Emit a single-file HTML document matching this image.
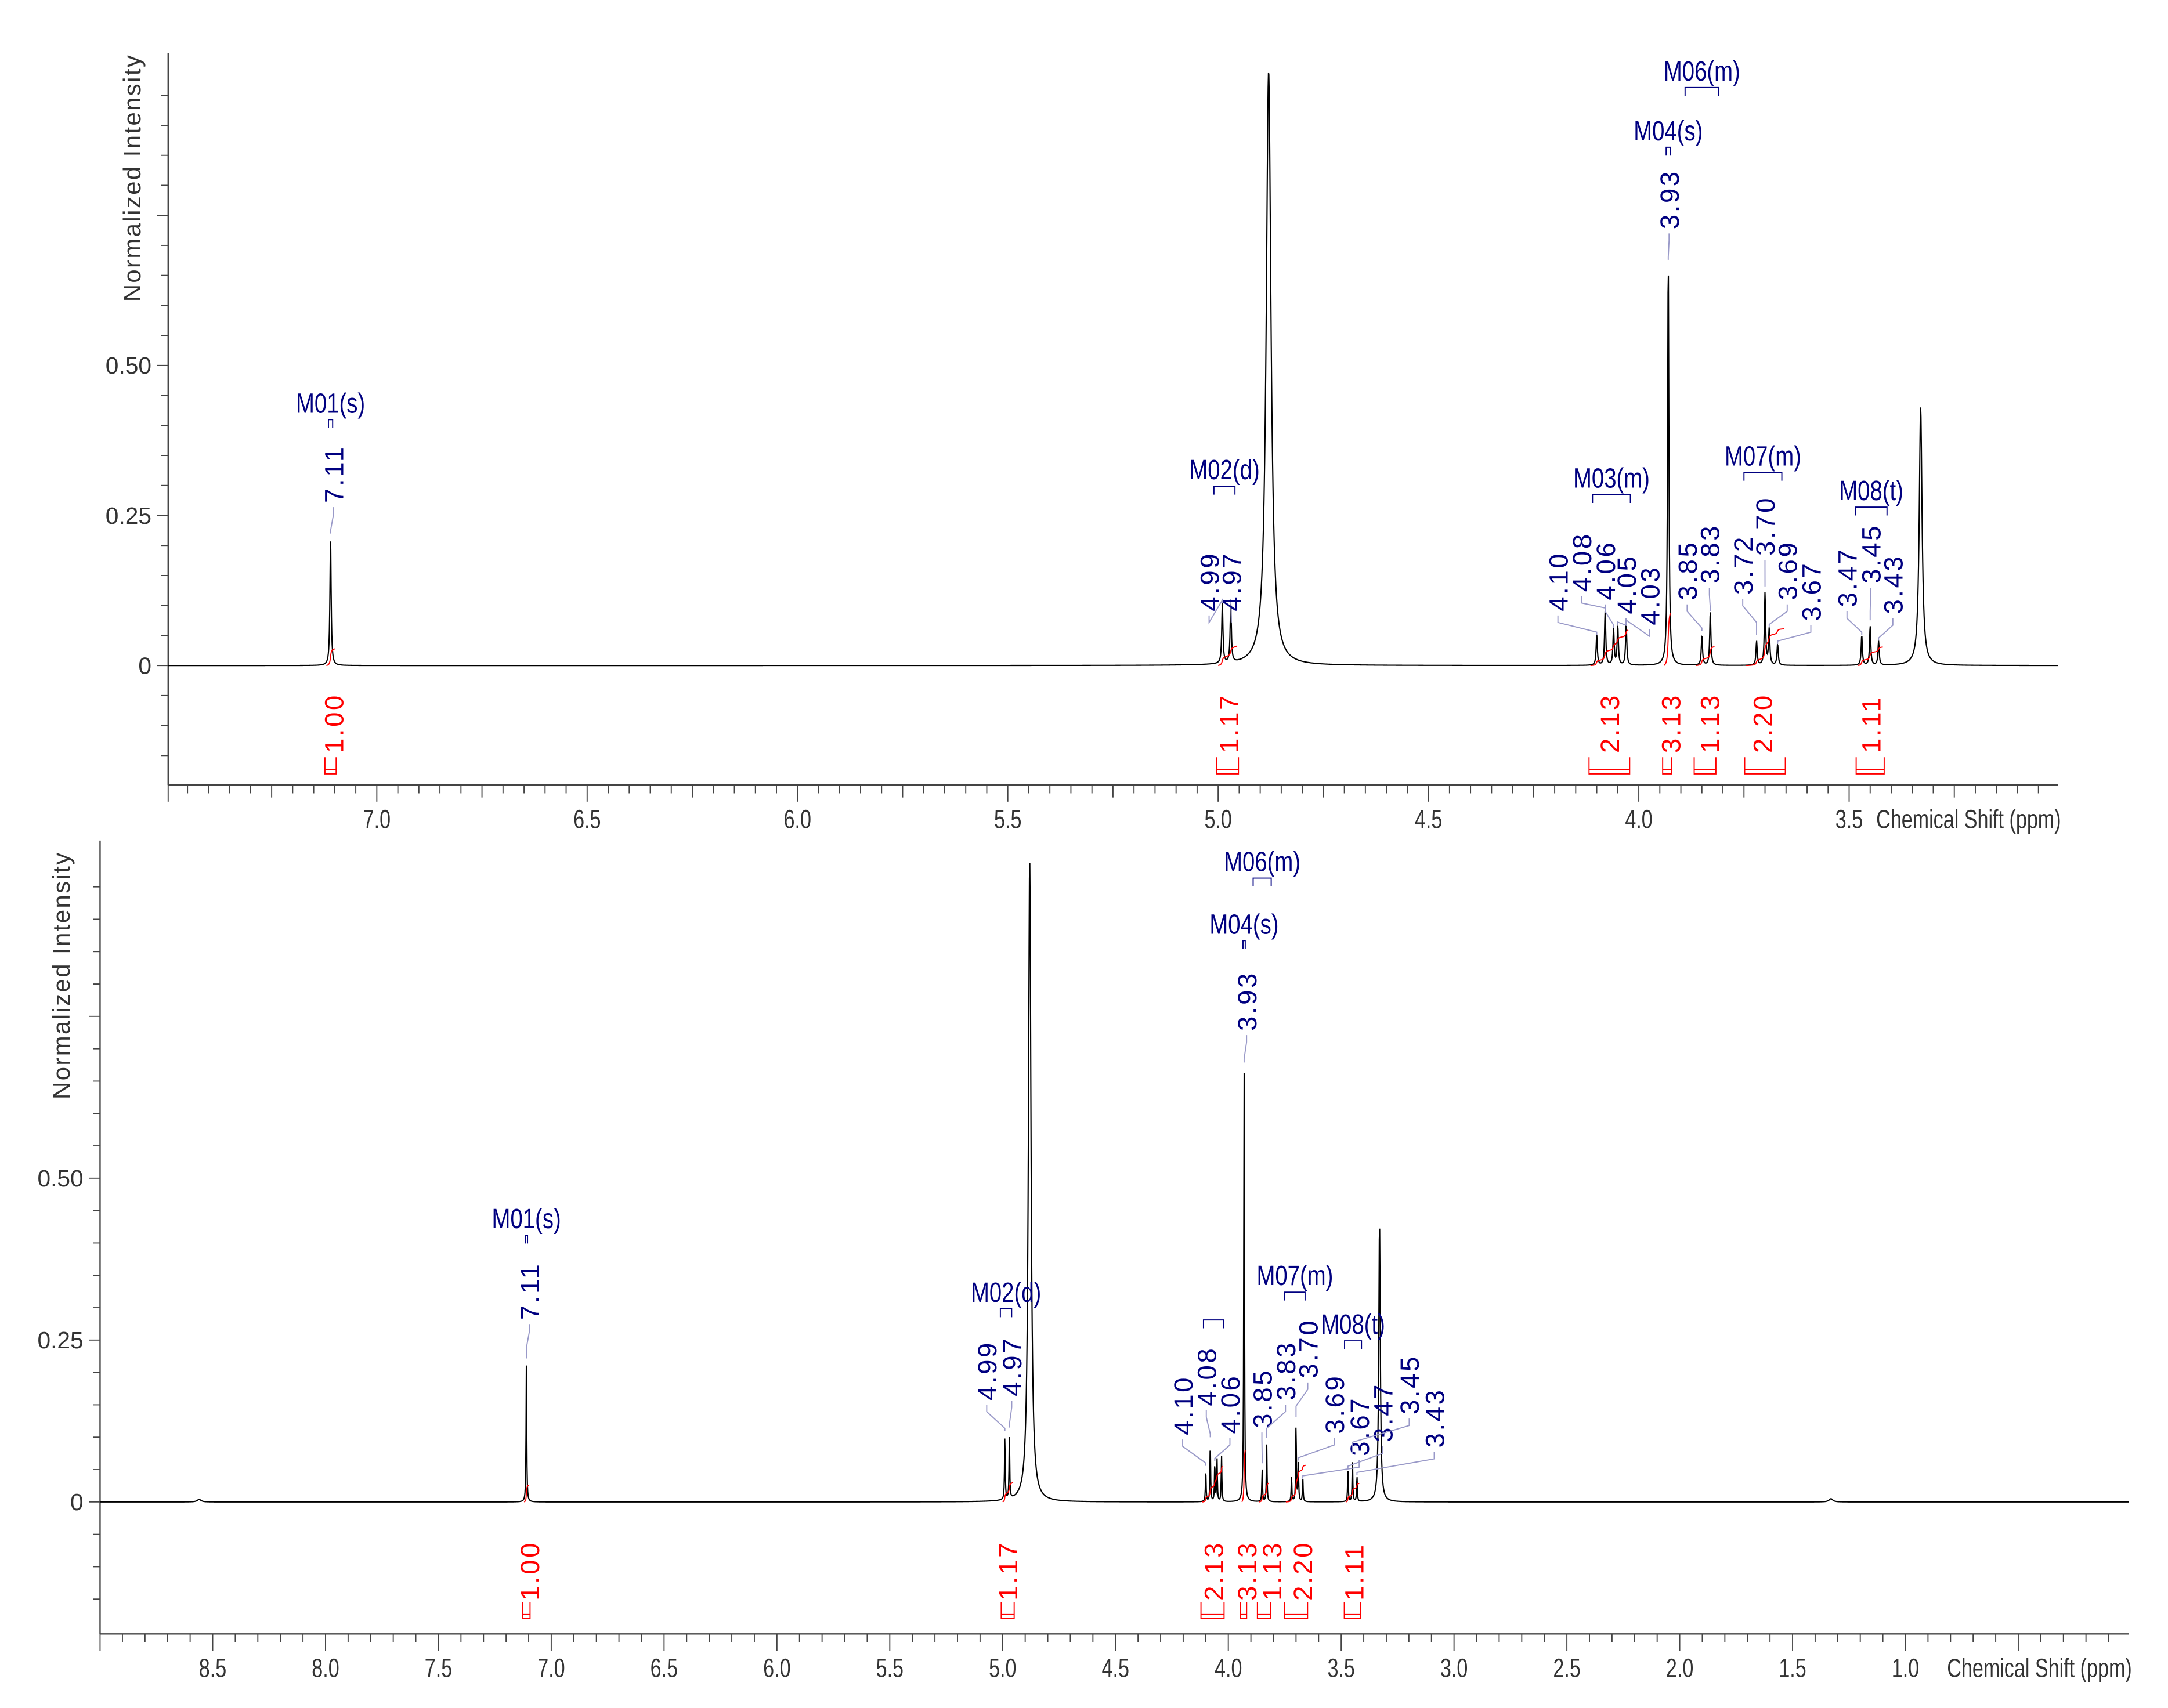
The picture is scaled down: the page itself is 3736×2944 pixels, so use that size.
<!DOCTYPE html>
<html><head><meta charset="utf-8"><style>
html,body{margin:0;padding:0;background:#fff;}
svg{display:block;}
</style></head><body>
<svg id="chart" xmlns="http://www.w3.org/2000/svg" width="3736" height="2944" viewBox="0 0 1560 1229.3" font-family="Liberation Sans, sans-serif">
<rect x="0" y="0" width="1560" height="1229.3" fill="#fff"/>
<g id="top"></g>
<g id="bot"></g>
</svg>
<script>
// ---- data (ppm, normalized intensity, half-width ppm) ----
const peakPpm = [7.11, 4.99, 4.97, 4.88, 4.10, 4.08, 4.06, 4.05, 4.03, 3.93, 3.85, 3.83, 3.72, 3.70, 3.69, 3.67, 3.47, 3.45, 3.43, 3.33, 1.33, 8.56];
const peakInt = [0.213, 0.10, 0.10, 0.99, 0.05, 0.09, 0.06, 0.065, 0.07, 0.67, 0.05, 0.09, 0.04, 0.12, 0.06, 0.035, 0.05, 0.065, 0.04, 0.43, 0.005, 0.004];
const peakHw = [0.0017, 0.0017, 0.0017, 0.0068, 0.0017, 0.0017, 0.0017, 0.0017, 0.0017, 0.0018, 0.0017, 0.0017, 0.0017, 0.0017, 0.0018, 0.0018, 0.0017, 0.0017, 0.0017, 0.004, 0.01, 0.01];
const yTickValues = [0, 0.25, 0.50];
const yTickLabels = ["0", "0.25", "0.50"];
const topXTicks = [7.0, 6.5, 6.0, 5.5, 5.0, 4.5, 4.0, 3.5];
const topXTickLabels = ["7.0", "6.5", "6.0", "5.5", "5.0", "4.5", "4.0", "3.5"];
const botXTicks = [8.5, 8.0, 7.5, 7.0, 6.5, 6.0, 5.5, 5.0, 4.5, 4.0, 3.5, 3.0, 2.5, 2.0, 1.5, 1.0];
const botXTickLabels = ["8.5", "8.0", "7.5", "7.0", "6.5", "6.0", "5.5", "5.0", "4.5", "4.0", "3.5", "3.0", "2.5", "2.0", "1.5", "1.0"];
const integralLabels = ["1.00", "1.17", "2.13", "3.13", "1.13", "2.20", "1.11"];
const integralFrom = [7.12, 5.00, 4.115, 3.94, 3.865, 3.745, 3.48];
const integralTo = [7.10, 4.955, 4.025, 3.925, 3.82, 3.655, 3.42];
const multLabels = ["M01(s)", "M02(d)", "M03(m)", "M04(s)", "M06(m)", "M07(m)", "M08(t)"];
const multFrom = [7.115, 5.01, 4.11, 3.935, 3.89, 3.75, 3.485];
const multTo = [7.105, 4.96, 4.02, 3.925, 3.81, 3.66, 3.41];
const peakLabelText = ["7.11","4.99","4.97","4.10","4.08","4.06","4.05","4.03","3.93","3.85","3.83","3.72","3.70","3.69","3.67","3.47","3.45","3.43"];
const peakLabelPpm = [7.11,4.99,4.97,4.10,4.08,4.06,4.05,4.03,3.93,3.85,3.83,3.72,3.70,3.69,3.67,3.47,3.45,3.43];

const NS = "http://www.w3.org/2000/svg";
function mk(parent, tag, attrs, text) {
  const e = document.createElementNS(NS, tag);
  for (const k in attrs) e.setAttribute(k, attrs[k]);
  if (text !== undefined) e.textContent = text;
  parent.appendChild(e);
  return e;
}
function spec(p) {
  let s = 0;
  for (let i = 0; i < peakPpm.length; i++) {
    const d = (p - peakPpm[i]) / peakHw[i];
    s += peakInt[i] / (1 + d * d);
  }
  return s;
}

const panels = [
  { g: 'top', x0: 121, x1: 1481, pL: 7.496, pR: 3.003, base: 479, per: 432, yTop: 38, axY: 565,
    xt: topXTicks, xtl: topXTickLabels, minor: 0.05, title: [101, 128],
    mult: { y: [290, 338, 344, 94, 51, 328, 353] },
    lblX: [240, 870, 886, 1121, 1138, 1155, 1170, 1187, 1201, 1214, 1230, 1254, 1270, 1286, 1303, 1329, 1346, 1362],
    lblB: [362, 440, 440, 440, 426, 432, 442, 450, 165, 432, 420, 428, 400, 432, 447, 437, 420, 442],
    intX: [240, 884, 1158, 1202, 1230, 1268, 1346], intY: 542, brY: [545, 557], intScale: 12 },
  { g: 'bot', x0: 72, x1: 1532, pL: 8.999, pR: 0.009, base: 1081, per: 466, yTop: 605, axY: 1176,
    xt: botXTicks, xtl: botXTickLabels, minor: 0.1, title: [50, 702],
    mult: { y: [877, 930, -1, 665, 620, 918, 953] },
    lblX: [381, 710, 728, 851, 868, 885, -1, -1, 897, 908, 925, -1, 941, 960, 978, 995, 1014, 1032],
    lblB: [950, 1008, 1005, 1033, 1012, 1032, 0, 0, 742, 1028, 1008, 0, 992, 1032, 1048, 1038, 1018, 1042],
    intX: [381, 725, 873, 897, 915, 937, 974], intY: 1152, brY: [1153, 1165], intScale: 12 }
];

panels.forEach((P, pi) => {
  const g = document.getElementById(P.g);
  const X = p => P.x0 + (P.pL - p) / (P.pL - P.pR) * (P.x1 - P.x0);
  const Y = v => P.base - v * P.per;
  const ya = mk(g, 'line', {x1: P.x0, y1: P.yTop, x2: P.x0, y2: P.axY, stroke: '#444', 'stroke-width': 1});
  
  
  for (let v = -0.15; v <= 1.0; v += 0.05) {
    const yy = Y(v);
    if (yy < P.yTop + 10 || yy > P.axY - 5) continue;
    const major = Math.abs(v % 0.25) < 1e-6 || Math.abs(Math.abs(v % 0.25) - 0.25) < 1e-6;
    mk(g, 'line', {x1: P.x0 - (major ? 8 : 5), y1: yy, x2: P.x0, y2: yy, stroke: '#444', 'stroke-width': 0.8});
  }
  yTickValues.forEach((v, i) => {
    const t = mk(g, 'text', {x: P.x0 - 12, y: Y(v) + 6, 'text-anchor': 'end', 'font-size': 17, fill: '#333'}, yTickLabels[i]);
    
    
  });
  const tt = mk(g, 'text', {transform: `translate(${P.title[0]},${P.title[1]}) rotate(-90)`, 'text-anchor': 'middle', 'font-size': 17.5, fill: '#333', 'letter-spacing': '1'}, 'Normalized Intensity');
  
  
  const xa = mk(g, 'line', {x1: P.x0, y1: P.axY, x2: P.x1, y2: P.axY, stroke: '#444', 'stroke-width': 1});
  
  
  for (let p = Math.ceil(P.pR / P.minor) * P.minor; p <= P.pL; p += P.minor) {
    const xx = X(p);
    const r5 = Math.abs(p * 2 - Math.round(p * 2)) < 1e-6;
    const r25 = Math.abs(p * 4 - Math.round(p * 4)) < 1e-6;
    mk(g, 'line', {x1: xx, y1: P.axY, x2: xx, y2: P.axY + (r5 ? 12 : (r25 ? 9 : 6)), stroke: '#444', 'stroke-width': 0.8});
  }
  mk(g, 'line', {x1: P.x0, y1: P.axY, x2: P.x0, y2: P.axY + 12, stroke: '#444', 'stroke-width': 0.8});
  P.xt.forEach((p, i) => {
    const t = mk(g, 'text', {transform: `translate(${X(p)},${P.axY + 31}) scale(0.75,1)`, 'text-anchor': 'middle', 'font-size': 19, fill: '#333'}, P.xtl[i]);
    
    
  });
  const xt = mk(g, 'text', {transform: `translate(${P.x1 + 2},${P.axY + 31}) scale(0.75,1)`, 'text-anchor': 'end', 'font-size': 19, fill: '#333'}, 'Chemical Shift (ppm)');
  
  
  let d = '';
  const step = 0.25;
  for (let x = P.x0; x <= P.x1; x += step) {
    const p = P.pL - (x - P.x0) / (P.x1 - P.x0) * (P.pL - P.pR);
    let yy = Y(spec(p));
    if (yy < P.yTop + 10) yy = P.yTop + 10;
    d += (d ? 'L' : 'M') + x.toFixed(2) + ' ' + yy.toFixed(2);
  }
  const sp = mk(g, 'path', {d: d, fill: 'none', stroke: '#000', 'stroke-width': 0.9});
  
  
  integralLabels.forEach((lab, i) => {
    const xa0 = X(integralFrom[i]), xa1 = X(integralTo[i]);
    let acc = 0, dd = '', tot = 0;
    const n = 60;
    for (let k = 0; k <= n; k++) tot += spec(integralFrom[i] + (integralTo[i] - integralFrom[i]) * k / n);
    for (let k = 0; k <= n; k++) {
      const p = integralFrom[i] + (integralTo[i] - integralFrom[i]) * k / n;
      acc += spec(p);
      const h = acc / tot * parseFloat(lab) * P.intScale + 8;
      dd += (k ? 'L' : 'M') + X(p).toFixed(2) + ' ' + (P.base - h + 8).toFixed(2);
    }
    const ic = mk(g, 'path', {d: dd, fill: 'none', stroke: '#f00', 'stroke-width': 0.8});
    
    
    const bx0 = Math.min(xa0, xa1) - 1, bx1 = Math.max(xa0, xa1) + 1;
    mk(g, 'path', {d: `M${bx0} ${P.brY[0]}L${bx0} ${P.brY[1]}L${bx1} ${P.brY[1]}L${bx1} ${P.brY[0]}M${bx0} ${P.brY[1] - 3}L${bx1} ${P.brY[1] - 3}`, fill: 'none', stroke: '#f00', 'stroke-width': 0.8});
    const t = mk(g, 'text', {transform: `translate(${P.intX[i] + 7},${P.intY}) rotate(-90)`, 'font-size': 19, fill: '#f00', 'letter-spacing': '1.5'}, lab);
    
    
  });
  multLabels.forEach((lab, i) => {
    const my = P.mult.y[i];
    const bx0 = X(multFrom[i]), bx1 = X(multTo[i]);
    const bracketY = (my < 0 ? 950 : my + 12);
    mk(g, 'path', {d: `M${bx0} ${bracketY + 6}L${bx0} ${bracketY}L${bx1} ${bracketY}L${bx1} ${bracketY + 6}`, fill: 'none', stroke: '#000080', 'stroke-width': 0.8});
    if (my < 0) return;
    const t = mk(g, 'text', {transform: `translate(${(bx0 + bx1) / 2},${my + 7}) scale(0.8,1)`, 'text-anchor': 'middle', 'font-size': 20, fill: '#000080'}, lab);
    
    
  });
  peakLabelText.forEach((lab, i) => {
    const lx = P.lblX[i];
    if (lx < 0) return;
    const lb = P.lblB[i];
    const px = X(peakLabelPpm[i]);
    const ptop = Y(spec(peakLabelPpm[i]));
    const endY = Math.min(ptop - 4, lb + 40);
    const midY = Math.min(lb + 12, endY - 6);
    mk(g, 'path', {d: `M${lx} ${lb + 3}L${lx} ${lb + 8}L${px} ${midY + 8}L${px} ${Math.max(endY, midY + 10)}`, fill: 'none', stroke: '#9999c8', 'stroke-width': 0.8});
    const t = mk(g, 'text', {transform: `translate(${lx + 7},${lb}) rotate(-90)`, 'font-size': 19, fill: '#000080', 'letter-spacing': '1.5'}, lab);
    
    
  });
});
</script>
</body></html>
